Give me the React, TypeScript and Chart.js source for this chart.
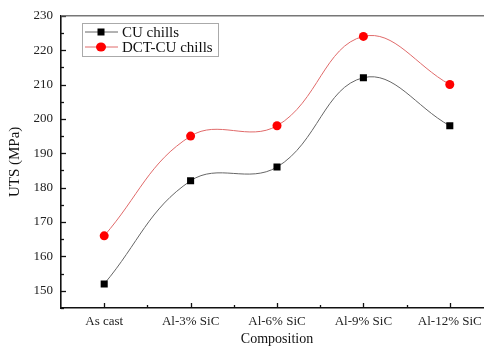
import React, { useEffect, useRef } from "react";
import { Chart, registerables } from "chart.js";

Chart.register(...registerables);

const categories = ["As cast", "Al-3% SiC", "Al-6% SiC", "Al-9% SiC", "Al-12% SiC"];
const cuChills = [152, 182, 186, 212, 198];
const dctCuChills = [166, 195, 198, 224, 210];
const yMin = 145;
const yMax = 230;
const yMajorStep = 10;
const yMinorStep = 5;

const FONT = "'Liberation Serif', 'Times New Roman', serif";

const tickPlugin = {
  id: "innerTicks",
  afterDraw(chart: any) {
    const ctx = chart.ctx;
    const ys = chart.scales.y;
    const xs = chart.scales.x;
    const area = chart.chartArea;
    ctx.save();
    ctx.strokeStyle = "#111";
    ctx.lineWidth = 1.3;
    for (let v = yMin; v <= yMax + 0.001; v += yMinorStep) {
      const y = Math.round(ys.getPixelForValue(v)) + 0.5;
      const len = v % yMajorStep === 0 ? 5 : 3;
      ctx.beginPath();
      ctx.moveTo(area.left, y);
      ctx.lineTo(area.left + len, y);
      ctx.stroke();
    }
    const n = categories.length;
    for (let i = 0; i < n; i++) {
      const x = Math.round(xs.getPixelForTick(i)) + 0.5;
      ctx.beginPath();
      ctx.moveTo(x, area.bottom);
      ctx.lineTo(x, area.bottom - 5);
      ctx.stroke();
      if (i < n - 1) {
        const x2 = Math.round((xs.getPixelForTick(i) + xs.getPixelForTick(i + 1)) / 2) + 0.5;
        ctx.beginPath();
        ctx.moveTo(x2, area.bottom);
        ctx.lineTo(x2, area.bottom - 3);
        ctx.stroke();
      }
    }
    ctx.strokeStyle = "#777";
    ctx.lineWidth = 1.5;
    ctx.beginPath();
    ctx.moveTo(area.left, area.top);
    ctx.lineTo(area.right, area.top);
    ctx.stroke();

    const bx = 82, by = 23, bw = 136, bh = 33;
    ctx.fillStyle = "#fff";
    ctx.fillRect(bx, by, bw, bh);
    ctx.strokeStyle = "#aaa";
    ctx.lineWidth = 1;
    ctx.strokeRect(bx + 0.5, by + 0.5, bw, bh);
    const rows = chart.data.datasets;
    rows.forEach((ds: any, i: number) => {
      const ry = by + 9 + i * 15;
      ctx.strokeStyle = ds.borderColor;
      ctx.lineWidth = 1;
      ctx.beginPath();
      ctx.moveTo(bx + 3, ry);
      ctx.lineTo(bx + 36, ry);
      ctx.stroke();
      ctx.fillStyle = ds.pointBackgroundColor;
      if (ds.pointStyle === "rect") {
        ctx.fillRect(bx + 19 - 3.5, ry - 3.5, 7, 7);
      } else {
        ctx.beginPath();
        ctx.ellipse(bx + 19, ry, 5, 4.5, 0, 0, Math.PI * 2);
        ctx.fill();
      }
      ctx.fillStyle = "#111";
      ctx.font = `15px ${FONT}`;
      ctx.textBaseline = "middle";
      ctx.textAlign = "left";
      ctx.fillText(ds.label, bx + 40, ry + 1);
    });
    ctx.restore();
  },
};

export default function App() {
  const ref = useRef<HTMLCanvasElement | null>(null);
  useEffect(() => {
    if (!ref.current) return;
    const chart = new Chart(ref.current, {
      type: "line",
      data: {
        labels: categories,
        datasets: [
          {
            label: "CU chills",
            data: cuChills,
            borderColor: "#666",
            borderWidth: 1,
            pointStyle: "rect",
            pointRadius: 5,
            pointBackgroundColor: "#000",
            pointBorderColor: "#000",
            pointBorderWidth: 0,
            tension: 0.4,
          },
          {
            label: "DCT-CU chills",
            data: dctCuChills,
            borderColor: "#e06a6a",
            borderWidth: 1,
            pointStyle: "circle",
            pointRadius: 4.5,
            pointBackgroundColor: "#f00",
            pointBorderColor: "#f00",
            pointBorderWidth: 0,
            tension: 0.4,
          },
        ],
      },
      options: {
        animation: false,
        responsive: false,
        maintainAspectRatio: false,
        layout: { padding: { left: 0, right: 7, top: 12, bottom: 0 } },
        plugins: { legend: { display: false }, tooltip: { enabled: false } },
        scales: {
          x: {
            type: "category",
            offset: true,
            grid: { display: false, drawTicks: false },
            border: { display: true, color: "#111", width: 1.6 },
            ticks: { color: "#222", font: { family: FONT, size: 13 }, padding: 6, maxRotation: 0, autoSkip: false },
            title: { display: true, text: "Composition", color: "#111", font: { family: FONT, size: 14 }, padding: { top: 4, bottom: -1 } },
            afterFit: (s: any) => { s.height = 39; },
          },
          y: {
            type: "linear",
            min: yMin,
            max: yMax,
            grid: { display: false, drawTicks: false },
            border: { display: true, color: "#111", width: 1.6 },
            ticks: {
              stepSize: yMajorStep,
              autoSkip: false,
              color: "#222",
              font: { family: FONT, size: 13 },
              padding: 8,
              callback: (v: any) => (Number(v) % yMajorStep === 0 ? String(v) : ""),
            },
            title: { display: true, text: "UTS (MPa)", color: "#111", font: { family: FONT, size: 15 }, padding: { top: 6, bottom: 4 } },
            afterFit: (s: any) => { s.width = 61; },
          },
        },
      },
      plugins: [tickPlugin],
    });
    return () => chart.destroy();
  }, []);
  return (
    <div style={{ position: "fixed", left: 0, top: 0, width: 484, height: 347, overflow: "hidden", background: "#fff" }}>
      <canvas ref={ref} width={500} height={347} style={{ display: "block" }} />
    </div>
  );
}
